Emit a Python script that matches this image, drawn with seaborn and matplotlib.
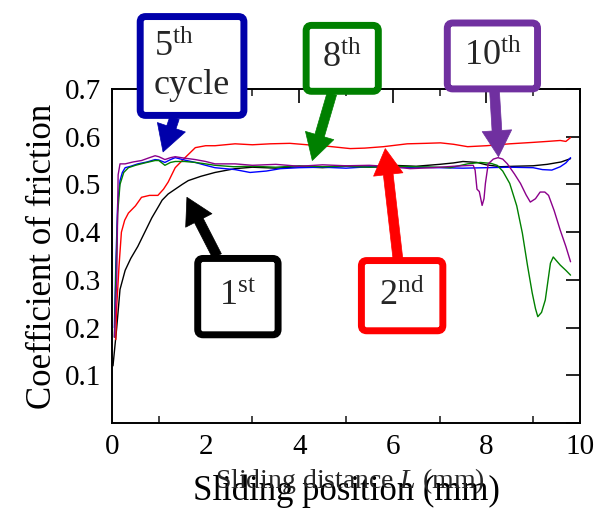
import numpy as np
import pandas as pd
import matplotlib
matplotlib.use("Agg")
import matplotlib.pyplot as plt
import seaborn as sns

# ---- data ----
x_1st = [0.02,0.05,0.1,0.17,0.28,0.4,0.55,0.7,0.85,1.0,1.07,1.2,1.35,1.5,1.63,1.9,2.2,2.63,3.0,3.5,4.0,4.5,5.0,5.5,6.0,6.5,7.0,7.3,7.5,7.8,8.0,8.3,8.6,9.0,9.3,9.6,9.8]
y_1st = [0.12,0.15,0.20,0.28,0.32,0.345,0.37,0.40,0.43,0.455,0.467,0.48,0.49,0.50,0.508,0.517,0.525,0.533,0.536,0.534,0.537,0.535,0.538,0.536,0.54,0.538,0.542,0.545,0.548,0.546,0.541,0.537,0.538,0.539,0.542,0.547,0.554]

x_2nd = [0.08,0.1,0.15,0.2,0.27,0.35,0.5,0.63,0.8,0.98,1.1,1.2,1.35,1.56,1.78,2.0,2.2,2.63,3.0,3.38,3.8,4.17,4.6,5.09,5.4,5.8,6.31,6.7,7.02,7.3,7.6,8.0,8.5,9.0,9.3,9.58,9.7,9.8]
y_2nd = [0.175,0.245,0.33,0.40,0.425,0.44,0.455,0.473,0.477,0.477,0.49,0.505,0.535,0.556,0.577,0.581,0.581,0.585,0.583,0.585,0.586,0.583,0.580,0.575,0.576,0.579,0.585,0.586,0.587,0.584,0.579,0.581,0.585,0.588,0.590,0.592,0.590,0.598]

x_5th = [0.05,0.08,0.12,0.17,0.22,0.28,0.4,0.55,0.75,0.92,1.0,1.13,1.25,1.35,1.55,1.78,2.0,2.2,2.63,2.95,3.3,3.6,4.0,4.5,5.0,5.5,6.0,6.5,7.0,7.5,8.0,8.5,9.0,9.2,9.4,9.58,9.7,9.8]
y_5th = [0.20,0.33,0.46,0.508,0.525,0.535,0.538,0.543,0.547,0.552,0.551,0.546,0.552,0.556,0.551,0.546,0.54,0.535,0.531,0.525,0.528,0.533,0.535,0.536,0.534,0.537,0.535,0.536,0.535,0.534,0.535,0.536,0.535,0.531,0.530,0.537,0.545,0.556]

x_8th = [0.05,0.08,0.12,0.17,0.25,0.35,0.5,0.7,0.92,1.0,1.13,1.25,1.35,1.55,1.78,2.0,2.2,2.6,3.0,3.5,4.0,4.5,5.0,5.5,6.0,6.5,7.0,7.23,7.6,7.87,8.1,8.23,8.35,8.5,8.65,8.77,8.88,8.98,9.05,9.1,9.18,9.26,9.37,9.43,9.5,9.58,9.7,9.8]
y_8th = [0.18,0.30,0.44,0.50,0.525,0.535,0.54,0.545,0.55,0.55,0.54,0.546,0.548,0.548,0.546,0.543,0.54,0.537,0.538,0.536,0.539,0.537,0.538,0.536,0.538,0.537,0.536,0.535,0.543,0.546,0.544,0.54,0.528,0.502,0.455,0.398,0.33,0.273,0.24,0.223,0.232,0.258,0.335,0.348,0.34,0.331,0.32,0.31]

x_10th = [0.05,0.1,0.13,0.17,0.28,0.45,0.63,0.8,0.92,1.0,1.13,1.25,1.35,1.55,1.78,2.0,2.2,2.63,3.0,3.5,4.0,4.5,5.0,5.5,6.0,6.37,6.87,7.3,7.72,7.76,7.8,7.85,7.91,7.95,7.98,8.04,8.15,8.25,8.35,8.45,8.6,8.73,8.85,8.94,9.05,9.15,9.25,9.33,9.45,9.58,9.7,9.8]
y_10th = [0.18,0.30,0.52,0.543,0.543,0.547,0.55,0.556,0.56,0.558,0.552,0.556,0.558,0.555,0.552,0.548,0.543,0.543,0.540,0.542,0.538,0.541,0.539,0.540,0.537,0.533,0.535,0.538,0.54,0.53,0.49,0.485,0.456,0.47,0.502,0.543,0.553,0.556,0.553,0.543,0.522,0.502,0.478,0.463,0.47,0.484,0.484,0.477,0.445,0.404,0.37,0.338]

series = [
    (x_1st, y_1st, "black"),
    (x_2nd, y_2nd, "#ff0000"),
    (x_5th, y_5th, "#0000ff"),
    (x_8th, y_8th, "#008000"),
    (x_10th, y_10th, "#8b008b"),
]

# annotations: label, text position (data), arrow tip (data), colour
labels = ["5$^{\\rm th}$\ncycle", "8$^{\\rm th}$", "10$^{\\rm th}$", "1$^{\\rm st}$", "2$^{\\rm nd}$"]
label_pos = [(1.71, 0.748), (4.92, 0.764), (8.13, 0.769), (2.69, 0.265), (6.2, 0.267)]
label_tip = [(1.09, 0.568), (4.28, 0.55), (8.26, 0.558), (1.6, 0.473), (5.84, 0.575)]
label_col = ["#0000aa", "#008000", "#7030a0", "black", "#ff0000"]
label_pad = [0.38, 0.45, 0.45, 0.6, 0.5]

y_ticks = [0.1, 0.2, 0.3, 0.4, 0.5, 0.6, 0.7]
x_ticks = [0, 2, 4, 6, 8, 10]

sns.set_theme(style="white")
plt.rcParams["font.family"] = ["Liberation Serif", "DejaVu Serif"]
plt.rcParams["mathtext.fontset"] = "custom"
plt.rcParams["mathtext.rm"] = "Liberation Serif"
plt.rcParams["mathtext.it"] = "Liberation Serif:italic"

fig = plt.figure(figsize=(5.96, 5.08), dpi=100)
ax = fig.add_axes([0.188, 0.167, 0.785, 0.658])

for xs, ys, c in series:
    df = pd.DataFrame({"x": xs, "y": ys})
    sns.lineplot(data=df, x="x", y="y", color=c, lw=1.0, ax=ax, sort=False, estimator=None)

ax.set_xlim(0, 10)
ax.set_ylim(0, 0.7)
ax.set_xticks(x_ticks)
ax.set_xticks([1, 3, 5, 7, 9], minor=True)
ax.set_yticks([0] + y_ticks)
ax.set_yticklabels([""] + [str(v) for v in y_ticks])
ax.tick_params(axis="both", which="major", direction="in", length=10, width=1.2,
               top=True, right=True, labelsize=21, pad=8, colors="black")
ax.tick_params(axis="x", which="minor", direction="in", length=5, width=1.2, top=True, bottom=True)
for s in ax.spines.values():
    s.set_color("black")
    s.set_linewidth(1.4)

ax.set_xlabel("Sliding position (mm)", fontsize=25, labelpad=10, color="black")
ax.set_ylabel("Coefficient of friction", fontsize=25, labelpad=4, color="black")
fig.text(0.587, 0.04, "Sliding distance $\\mathit{L}$ (mm)", fontsize=20, ha="center", va="baseline")

for lab, pos, tip, col, pd_ in zip(labels, label_pos, label_tip, label_col, label_pad):
    ax.annotate(lab, xy=tip, xytext=pos, textcoords="data", xycoords="data",
                fontsize=26, ha="center", va="center", multialignment="left",
                annotation_clip=False, zorder=10,
                bbox=dict(boxstyle=f"round,pad={pd_},rounding_size=0.15", fc="white", ec=col, lw=5),
                arrowprops=dict(arrowstyle="simple,head_length=0.75,head_width=0.85,tail_width=0.28",
                                fc=col, ec=col, lw=0.5, shrinkA=0, shrinkB=0, mutation_scale=25))

fig.savefig("out.png", dpi=100)
